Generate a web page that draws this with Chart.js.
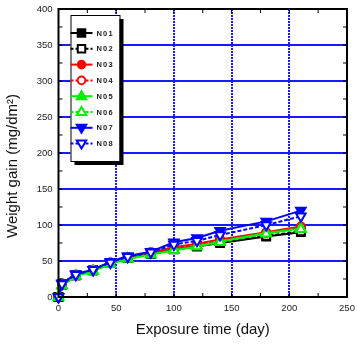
<!DOCTYPE html>
<html>
<head>
<meta charset="utf-8">
<script src="https://cdn.jsdelivr.net/npm/chart.js@4.4.1/dist/chart.umd.min.js"></script>
<style>
  html, body { margin: 0; padding: 0; background: #fff; }
  #wrap { width: 358px; height: 345px; }
</style>
</head>
<body>
<div id="wrap"><canvas id="gainChart" width="358" height="345"></canvas></div>
<script>
// exposure days
const days = [0, 3, 15, 30, 45, 60, 80, 100, 120, 140, 180, 210];

// weight gain (mg/dm2) per specimen
const n01 = [0, 17, 30, 37, 47, 54, 60, 66, 70, 75, 84, 90];
const n02 = [0, 18, 30, 37, 47, 54, 60, 67, 71, 76, 85, 91];
const n03 = [0, 18, 31, 38, 48, 55, 62, 69, 74, 80, 90, 98];
const n04 = [0, 19, 31, 38, 48, 55, 62, 68, 73, 79, 89, 97];
const n05 = [0, 16, 29, 36, 46, 53, 59, 65, 70, 77, 89, 95];
const n06 = [0, 16, 29, 36, 46, 53, 59, 65, 70, 76, 88, 94];
const n07 = [0, 19, 32, 38, 49, 57, 63, 76, 82, 92, 105, 120];
const n08 = [0, 18, 31, 38, 48, 56, 62, 73, 78, 86, 100, 112];

const seriesNames = ["N01", "N02", "N03", "N04", "N05", "N06", "N07", "N08"];
const seriesValues = [n01, n02, n03, n04, n05, n06, n07, n08];

const xTicks = [0, 50, 100, 150, 200, 250];
const yTicks = [0, 50, 100, 150, 200, 250, 300, 350, 400];

const xTitle = "Exposure time (day)";
const yTitle = "Weight gain (mg/dm²)";

// marker / line look for each series
const looks = [
    { color: "#000000", shape: "rect",     filled: true,  dash: [] },
    { color: "#000000", shape: "rect",     filled: false, dash: [4, 2] },
    { color: "#ff0000", shape: "circle",   filled: true,  dash: [] },
    { color: "#ff0000", shape: "circle",   filled: false, dash: [4, 2] },
    { color: "#00ee00", shape: "triangle", filled: true,  dash: [] },
    { color: "#00ee00", shape: "triangle", filled: false, dash: [4, 2] },
    { color: "#0000ff", shape: "down",     filled: true,  dash: [] },
    { color: "#0000ff", shape: "down",     filled: false, dash: [4, 2] }
];

const datasets = seriesNames.map((name, i) => {
    const lk = looks[i];
    return {
        label: name,
        data: days.map((d, j) => ({ x: d, y: seriesValues[i][j] })),
        borderColor: lk.color,
        borderWidth: 2,
        borderDash: lk.dash,
        pointStyle: lk.shape === "down" ? "triangle" : lk.shape,
        pointRotation: lk.shape === "down" ? 180 : 0,
        pointRadius: lk.shape === "circle" ? 4 : 5.5,
        pointBorderWidth: 2,
        pointBorderColor: lk.color,
        pointBackgroundColor: lk.filled ? lk.color : "#ffffff",
        showLine: true,
        fill: false,
        tension: 0,
        clip: false,
        order: seriesNames.length - i
    };
});

function drawMarker(ctx, shape, x, y, r, color, filled) {
    ctx.save();
    ctx.beginPath();
    if (shape === "rect") {
        ctx.rect(x - r * 0.75, y - r * 0.75, r * 1.5, r * 1.5);
    } else if (shape === "circle") {
        ctx.arc(x, y, r, 0, Math.PI * 2);
    } else if (shape === "triangle") {
        ctx.moveTo(x, y - r);
        ctx.lineTo(x + r * 0.95, y + r * 0.6);
        ctx.lineTo(x - r * 0.95, y + r * 0.6);
        ctx.closePath();
    } else {
        ctx.moveTo(x, y + r);
        ctx.lineTo(x + r * 0.95, y - r * 0.6);
        ctx.lineTo(x - r * 0.95, y - r * 0.6);
        ctx.closePath();
    }
    ctx.fillStyle = filled ? color : "#ffffff";
    ctx.fill();
    ctx.lineWidth = 2;
    ctx.strokeStyle = color;
    ctx.setLineDash([]);
    ctx.stroke();
    ctx.restore();
}

// black frame with inward ticks every 25 units
const framePlugin = {
    id: "frame",
    afterDatasetsDraw(chart) {
        const { ctx, chartArea: a, scales } = chart;
        ctx.save();
        ctx.strokeStyle = "#000";
        ctx.lineWidth = 1;
        const tl = 4;
        for (let v = 25; v < 250; v += 25) {
            const px = scales.x.getPixelForValue(v);
            ctx.beginPath();
            ctx.moveTo(px, a.bottom); ctx.lineTo(px, a.bottom - tl);
            ctx.moveTo(px, a.top); ctx.lineTo(px, a.top + tl);
            ctx.stroke();
        }
        for (let v = 25; v < 400; v += 25) {
            const py = scales.y.getPixelForValue(v);
            ctx.beginPath();
            ctx.moveTo(a.left, py); ctx.lineTo(a.left + tl, py);
            ctx.moveTo(a.right, py); ctx.lineTo(a.right - tl, py);
            ctx.stroke();
        }
        ctx.lineWidth = 2;
        ctx.strokeRect(a.left, a.top, a.right - a.left, a.bottom - a.top);
        ctx.restore();
    }
};

// rotated y title, sitting a little below the axis middle
const yTitlePlugin = {
    id: "yTitle",
    afterDraw(chart) {
        const { ctx } = chart;
        ctx.save();
        ctx.translate(13, 166);
        ctx.rotate(-Math.PI / 2);
        ctx.font = "15px 'Liberation Sans', Arial, sans-serif";
        ctx.fillStyle = "#111";
        ctx.textAlign = "center";
        ctx.textBaseline = "middle";
        ctx.fillText(yTitle, 0, 0);
        ctx.restore();
    }
};

// boxed legend with drop shadow in the upper left corner
const legendPlugin = {
    id: "boxLegend",
    afterDraw(chart) {
        const { ctx, chartArea: a } = chart;
        const bx = a.left + 12, by = a.top + 6, bw = 49, bh = 146;
        ctx.save();
        ctx.fillStyle = "#000";
        ctx.fillRect(bx + 4, by + 4, bw, bh);
        ctx.fillStyle = "#fff";
        ctx.fillRect(bx, by, bw, bh);
        ctx.strokeStyle = "#000";
        ctx.lineWidth = 1;
        ctx.strokeRect(bx + 0.5, by + 0.5, bw, bh);

        ctx.font = "bold 7.5px 'Liberation Sans', Arial, sans-serif";
        if ("letterSpacing" in ctx) ctx.letterSpacing = "1.2px";
        ctx.textBaseline = "middle";
        chart.data.datasets.forEach((ds, i) => {
            const lk = looks[i];
            const y = by + 18 + i * 15.8;
            ctx.strokeStyle = lk.color;
            ctx.lineWidth = 2;
            ctx.setLineDash(lk.dash.length ? [3, 2] : []);
            ctx.beginPath();
            ctx.moveTo(bx, y);
            ctx.lineTo(bx + 22, y);
            ctx.stroke();
            drawMarker(ctx, lk.shape, bx + 11, y, lk.shape === "circle" ? 3.8 : 5, lk.color, lk.filled);
            ctx.fillStyle = "#222";
            ctx.fillText(ds.label, bx + 26, y + 0.5);
        });
        ctx.restore();
    }
};

const tickFont = { family: "'Liberation Sans', Arial, sans-serif", size: 9.5 };

new Chart(document.getElementById("gainChart").getContext("2d"), {
    type: "scatter",
    data: { datasets },
    options: {
        responsive: false,
        animation: false,
        layout: { padding: { top: 9, right: 11, bottom: 6, left: 0 } },
        plugins: {
            legend: { display: false },
            tooltip: { enabled: false }
        },
        scales: {
            x: {
                type: "linear",
                min: 0,
                max: 250,
                afterBuildTicks: s => { s.ticks = xTicks.map(v => ({ value: v })); },
                ticks: { font: tickFont, color: "#222", padding: 6, maxRotation: 0 },
                grid: {
                    color: c => (c.tick.value === 0 || c.tick.value === 250) ? "rgba(0,0,0,0)" : "#1a1aff",
                    lineWidth: 2,
                    drawTicks: false
                },
                border: { display: false, dash: [2, 1] },
                title: {
                    display: true,
                    text: xTitle,
                    font: { family: "'Liberation Sans', Arial, sans-serif", size: 15 },
                    color: "#111",
                    padding: { top: 5, bottom: 0 }
                },
                afterFit: s => { s.height = 42; s.paddingLeft = 0; s.paddingRight = 0; }
            },
            y: {
                type: "linear",
                min: 0,
                max: 400,
                afterBuildTicks: s => { s.ticks = yTicks.map(v => ({ value: v })); },
                ticks: { font: tickFont, color: "#222", padding: 6 },
                grid: {
                    color: c => (c.tick.value === 0 || c.tick.value === 400) ? "rgba(0,0,0,0)" : "#1a1aff",
                    lineWidth: 2,
                    drawTicks: false
                },
                border: { display: false },
                title: { display: false },
                afterFit: s => { s.width = 58.5; s.paddingTop = 0; s.paddingBottom = 0; }
            }
        }
    },
    plugins: [framePlugin, yTitlePlugin, legendPlugin]
});
</script>
</body>
</html>
